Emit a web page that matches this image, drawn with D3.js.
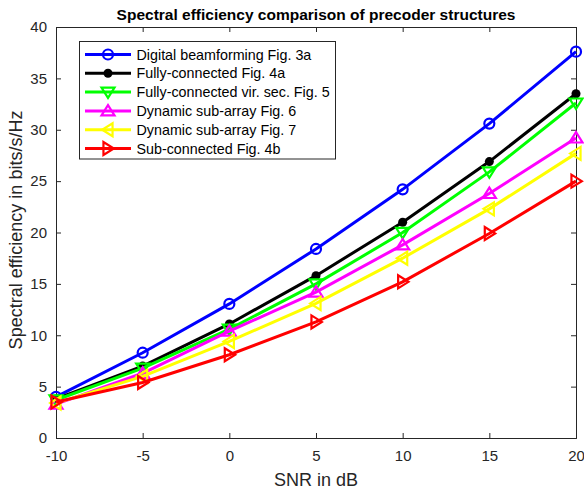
<!DOCTYPE html>
<html><head><meta charset="utf-8">
<script src="https://cdn.jsdelivr.net/npm/d3@7"></script>
<style>body{margin:0;background:#fff}svg{display:block}text{font-family:"Liberation Sans",Arial,sans-serif}</style>
</head><body><svg id="c" width="584" height="490"></svg>
<script>
const snr = [-10, -5, 0, 5, 10, 15, 20];
const xTicks = [-10, -5, 0, 5, 10, 15, 20];
const yTicks = [0, 5, 10, 15, 20, 25, 30, 35, 40];
const digital = [4.0, 8.3, 13.05, 18.4, 24.2, 30.6, 37.6];
const fully = [3.8, 7.0, 11.1, 15.8, 21.0, 26.9, 33.5];
const fullyVir = [3.7, 6.8, 10.6, 15.0, 20.0, 25.9, 32.6];
const dyn6 = [3.3, 6.3, 10.4, 14.2, 18.8, 23.8, 29.2];
const dyn7 = [3.4, 6.0, 9.4, 13.1, 17.5, 22.3, 27.7];
const subc = [3.5, 5.4, 8.1, 11.3, 15.2, 19.9, 25.0];
const names = ["Digital beamforming Fig. 3a","Fully-connected Fig. 4a","Fully-connected vir. sec. Fig. 5","Dynamic sub-array Fig. 6","Dynamic sub-array Fig. 7","Sub-connected Fig. 4b"];
const colors = ["#0000ff","#000000","#00ff00","#ff00ff","#ffff00","#ff0000"];
const markers = ["circle","dot","tdown","tup","tleft","tright"];
const series = [digital, fully, fullyVir, dyn6, dyn7, subc];

const svg = d3.select("#c");
const L=56,R=576,T=27,B=438;
const x = d3.scaleLinear().domain([-10,20]).range([L,R]);
const y = d3.scaleLinear().domain([0,40]).range([B,T]);
const axCol="#262626";
const g = svg.append("g");
const fmt = d => String(d);

const gx = g.append("g").attr("transform",`translate(0,${B})`).call(d3.axisBottom(x).tickValues(xTicks).tickSize(-5).tickPadding(12).tickFormat(fmt));
const gy = g.append("g").attr("transform",`translate(${L},0)`).call(d3.axisLeft(y).tickValues(yTicks).tickSize(-5).tickPadding(9).tickFormat(fmt));
const gxt = g.append("g").attr("transform",`translate(0,${T})`).call(d3.axisTop(x).tickValues(xTicks).tickSize(-5).tickFormat(""));
const gyr = g.append("g").attr("transform",`translate(${R},0)`).call(d3.axisRight(y).tickValues(yTicks).tickSize(-5).tickFormat(""));
[gx,gy,gxt,gyr].forEach(a=>{a.select(".domain").attr("stroke",axCol).attr("stroke-width",1);a.selectAll("line").attr("stroke",axCol);a.selectAll("text").attr("fill",axCol).style("font-size","15px").style("font-family","Liberation Sans, Arial, sans-serif");});
gx.selectAll("text").attr("dy","0.71em");

function drawMarker(sel, type, cx, cy, col){
  const s=6.5;
  if(type==="circle") sel.append("circle").attr("cx",cx).attr("cy",cy).attr("r",5).attr("fill","none").attr("stroke",col).attr("stroke-width",2.2);
  else if(type==="dot") sel.append("circle").attr("cx",cx).attr("cy",cy).attr("r",4.5).attr("fill",col);
  else {
    let pts;
    if(type==="tdown") pts=[[-s,-s*0.7],[s,-s*0.7],[0,s*0.9]];
    if(type==="tup") pts=[[-s,s*0.7],[s,s*0.7],[0,-s*0.9]];
    if(type==="tleft") pts=[[s*0.7,-s],[s*0.7,s],[-s*0.9,0]];
    if(type==="tright") pts=[[-s*0.7,-s],[-s*0.7,s],[s*0.9,0]];
    sel.append("polygon").attr("points",pts.map(p=>[cx+p[0],cy+p[1]].join(",")).join(" ")).attr("fill","none").attr("stroke",col).attr("stroke-width",2.2).attr("stroke-linejoin","miter");
  }
}

const plot = svg.append("g");
const line = d3.line().x((d,i)=>x(snr[i])).y(d=>y(d));
series.forEach((s,k)=>{
  const gg = plot.append("g");
  gg.append("path").datum(s).attr("d",line).attr("fill","none").attr("stroke",colors[k]).attr("stroke-width",3);
  s.forEach((v,i)=>drawMarker(gg,markers[k],x(snr[i]),y(v),colors[k]));
});

// legend
const lg = svg.append("g");
lg.append("rect").attr("x",79.5).attr("y",41.5).attr("width",256).attr("height",117.5).attr("fill","#fff").attr("stroke",axCol).attr("stroke-width",1);
names.forEach((n,k)=>{
  const yy = 54.5 + k*18.8;
  lg.append("line").attr("x1",85).attr("x2",131).attr("y1",yy).attr("y2",yy).attr("stroke",colors[k]).attr("stroke-width",3);
  drawMarker(lg,markers[k],108,yy,colors[k]);
  lg.append("text").attr("x",136.5).attr("y",yy+5).text(n).style("font-size","14.3px").attr("fill","#000");
});

svg.append("text").attr("x",316).attr("y",20).attr("text-anchor","middle").style("font-size","15.5px").style("font-weight","bold").text("Spectral efficiency comparison of precoder structures");
svg.append("text").attr("x",316).attr("y",486).attr("text-anchor","middle").style("font-size","18px").attr("fill",axCol).text("SNR in dB");
svg.append("text").attr("transform","translate(22,230) rotate(-90)").attr("text-anchor","middle").style("font-size","18px").attr("fill",axCol).text("Spectral efficiency in bits/s/Hz");
</script></body></html>
